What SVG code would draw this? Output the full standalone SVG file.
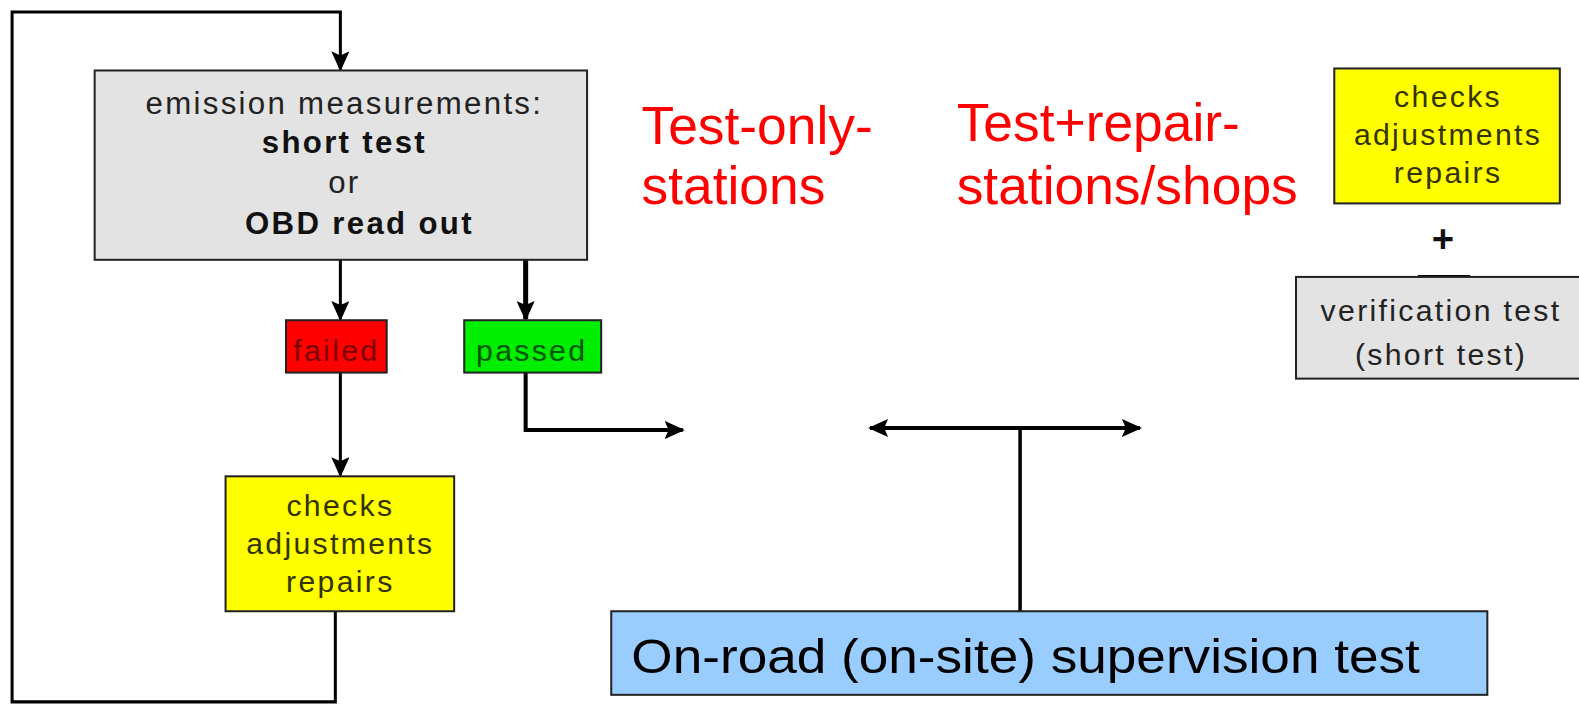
<svg xmlns="http://www.w3.org/2000/svg" width="1579" height="706" viewBox="0 0 1579 706">
<defs>
<style>
.box{stroke:#222;stroke-width:2}
.t{font-family:"Liberation Sans",Arial,sans-serif;font-size:30px;letter-spacing:2.3px;text-anchor:middle}
.b{font-weight:bold}
.red{font-family:"Liberation Sans",Arial,sans-serif;font-size:53px;fill:#ff0000}
.ln{fill:none;stroke:#000;stroke-width:3}
</style>
<marker id="ah" markerUnits="userSpaceOnUse" markerWidth="20" markerHeight="18" refX="18" refY="9" orient="auto-start-reverse">
<path d="M0,0 L20,9 L0,18 L4,9 Z" fill="#000"/>
</marker>
</defs>
<rect width="1579" height="706" fill="#fff"/>
<g transform="scale(1.007)">
<g id="connectors">
<path class="ln" d="M333,607 V697 H12 V12 H338 V69" marker-end="url(#ah)"/>
<path class="ln" d="M338,258 V317" marker-end="url(#ah)"/>
<path class="ln" d="M522,258 V317" style="stroke-width:5" marker-end="url(#ah)"/>
<path class="ln" d="M338,370 V472" marker-end="url(#ah)"/>
<path class="ln" d="M522,370 V427 H678" style="stroke-width:4" marker-end="url(#ah)"/>
<path class="ln" d="M864,425 H1132" style="stroke-width:4" marker-start="url(#ah)" marker-end="url(#ah)"/>
<path class="ln" d="M1013,425 V607" style="stroke-width:3.5"/>
<path class="ln" d="M1408,275 H1460" style="stroke-width:4"/>
</g>
<g id="emission">
<rect class="box" x="94" y="70" width="489" height="188" fill="#e3e3e3"/>
<text class="t" x="342" y="113" fill="#222" style="font-size:31px">emission measurements:</text>
<text class="t b" x="342" y="152" fill="#111" style="font-size:31px">short test</text>
<text class="t" x="342" y="192" fill="#222" style="font-size:31px">or</text>
<text class="t b" x="357" y="232" fill="#111" style="font-size:31px">OBD read out</text>
</g>
<g id="failed">
<rect class="box" x="284" y="318" width="100" height="52" fill="#ff0000"/>
<text class="t" x="334" y="358" fill="#7a0000">failed</text>
</g>
<g id="passed">
<rect class="box" x="461" y="318" width="136" height="52" fill="#00ee00"/>
<text class="t" x="528" y="358" fill="#005500">passed</text>
</g>
<g id="repairs-left">
<rect class="box" x="224" y="473" width="227" height="134" fill="#ffff00"/>
<text class="t" x="338" y="512" fill="#333300">checks</text>
<text class="t" x="338" y="550" fill="#333300">adjustments</text>
<text class="t" x="338" y="588" fill="#333300">repairs</text>
</g>
<g id="test-only">
<text class="red" x="637" y="143">Test-only-</text>
<text class="red" x="637" y="203">stations</text>
</g>
<g id="test-repair">
<text class="red" x="950" y="140">Test+repair-</text>
<text class="red" x="950" y="203">stations/shops</text>
</g>
<g id="repairs-right">
<rect class="box" x="1325" y="68" width="224" height="134" fill="#ffff00"/>
<text class="t" x="1438" y="106" fill="#333300">checks</text>
<text class="t" x="1438" y="144" fill="#333300">adjustments</text>
<text class="t" x="1438" y="182" fill="#333300">repairs</text>
</g>
<g id="plus">
<text x="1433" y="250" style="font-family:'Liberation Sans',Arial,sans-serif;font-size:38px;font-weight:bold;text-anchor:middle" fill="#111">+</text>
</g>
<g id="verification">
<rect class="box" x="1287" y="275" width="300" height="101" fill="#e3e3e3"/>
<text class="t" x="1431" y="319" fill="#222">verification test</text>
<text class="t" x="1431" y="362" fill="#222">(short test)</text>
</g>
<g id="supervision">
<rect class="box" x="607" y="607" width="870" height="83" fill="#99ccff"/>
<text x="627" y="668" textLength="783" lengthAdjust="spacingAndGlyphs" style="font-family:'Liberation Sans',Arial,sans-serif;font-size:48px" fill="#000">On-road (on-site) supervision test</text>
</g>
</g>
</svg>
